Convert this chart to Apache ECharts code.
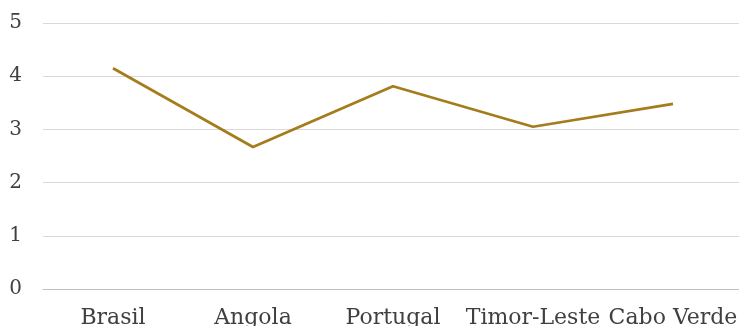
<!DOCTYPE html>
<html>
<head>
<meta charset="utf-8">
<script src="https://cdn.jsdelivr.net/npm/echarts@6/dist/echarts.min.js"></script>
<style>
  html, body { margin: 0; padding: 0; background: #fff; }
  #chart { width: 739px; height: 326px; }
</style>
</head>
<body>
<div id="chart"></div>
<script>
const countries = ['Brasil', 'Angola', 'Portugal', 'Timor-Leste', 'Cabo Verde'];
const scores = [4.15, 2.67, 3.81, 3.05, 3.48];
const yTicks = [0, 1, 2, 3, 4, 5];

const FONT = '"DejaVu Serif", "Liberation Serif", serif';

const chart = echarts.init(document.getElementById('chart'), null, { renderer: 'canvas' });
chart.setOption({
  animation: false,
  backgroundColor: '#ffffff',
  // plot area runs a little past the right edge; labels may overflow the bottom
  grid: { left: 43, width: 700, top: 23, height: 266, containLabel: false, outerBoundsMode: 'none' },
  xAxis: {
    type: 'category',
    data: countries,
    boundaryGap: true,
    axisLine: { show: true, lineStyle: { color: '#bfbfbf', width: 1 } },
    axisTick: { show: false },
    axisLabel: { color: '#404040', fontFamily: FONT, fontSize: 22, margin: 18, interval: 0 }
  },
  yAxis: {
    type: 'value',
    min: yTicks[0],
    max: yTicks[yTicks.length - 1],
    interval: 1,
    axisLine: { show: false },
    axisTick: { show: false },
    splitLine: { lineStyle: { color: '#d9d9d9', width: 1 } },
    axisLabel: { color: '#404040', fontFamily: FONT, fontSize: 20, margin: 21 }
  },
  series: [{
    type: 'line',
    data: scores,
    showSymbol: false,
    symbol: 'none',
    lineStyle: { color: '#a57c1b', width: 2.7 },
    itemStyle: { color: '#a57c1b' }
  }]
});
</script>
</body>
</html>
